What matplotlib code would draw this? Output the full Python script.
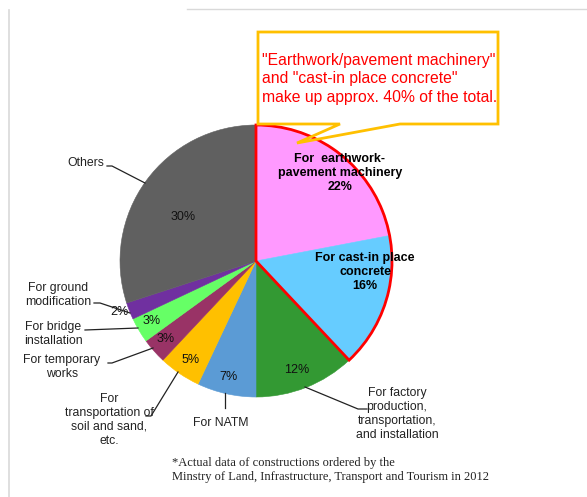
import matplotlib
matplotlib.use("Agg")
import matplotlib.pyplot as plt
from matplotlib.patches import Wedge, Polygon

# slice data, clockwise from 12 o'clock
categories = ["For earthwork-pavement machinery", "For cast-in place concrete",
              "For factory production, transportation, and installation", "For NATM",
              "For transportation of soil and sand, etc.", "For temporary works",
              "For bridge installation", "For ground modification", "Others"]
shares = [22, 16, 12, 7, 5, 3, 3, 2, 30]
colors = ["#FF99FF", "#66CCFF", "#339933", "#5B9BD5", "#FFC000",
          "#993366", "#66FF66", "#7030A0", "#606060"]
pct_labels = ["22%", "16%", "12%", "7%", "5%", "3%", "3%", "2%", "30%"]
outer_labels = ["", "", "For factory\nproduction,\ntransportation,\nand installation",
                "For NATM", "For\ntransportation of\nsoil and sand,\netc.",
                "For temporary\nworks", "For bridge\ninstallation",
                "For ground\nmodification", "Others"]
callout_text = ('"Earthwork/pavement machinery"\nand "cast-in place concrete"\n'
                'make up approx. 40% of the total.')
footnote = ("*Actual data of constructions ordered by the\n"
            "Minstry of Land, Infrastructure, Transport and Tourism in 2012")

W, H = 587, 497


def px(x, y):
    # image pixel coords -> axes data coords
    return (x, H - y)


plt.rcParams['font.family'] = ['Liberation Sans', 'DejaVu Sans']

fig = plt.figure(figsize=(W / 100, H / 100), dpi=100)
ax = fig.add_axes([0, 0, 1, 1])

center = px(256, 261)
radius = 136
wedges, _ = ax.pie(shares, colors=colors, startangle=90, counterclock=False,
                   center=center, radius=radius,
                   wedgeprops=dict(linewidth=0.4))
for w, c in zip(wedges, colors):
    w.set_edgecolor(c)

# red outline around the first two slices
top_share = (shares[0] + shares[1]) / sum(shares)
ax.add_patch(Wedge(center, radius, 90 - 360 * top_share, 90, fill=False,
                   edgecolor="red", linewidth=2, zorder=5))

# percent labels inside slices
pct_pos = [None, None, (297, 370), (228, 377), (191, 360), (166, 339),
           (152, 321), (119, 312), (183, 217)]
for lab, p in zip(pct_labels, pct_pos):
    if p is not None:
        ax.text(*px(*p), lab, ha="center", va="center", fontsize=9, color="#111111", zorder=6)

ax.text(*px(340, 173), "For  earthwork-\npavement machinery\n" + pct_labels[0],
        ha="center", va="center", fontsize=9, fontweight="bold", linespacing=1.25, zorder=6)
ax.text(*px(365, 272), "For cast-in place\nconcrete\n" + pct_labels[1],
        ha="center", va="center", fontsize=9, fontweight="bold", linespacing=1.25, zorder=6)

# outer labels with leader lines
label_pos = [None, None, (397, 414), (221, 423), (109, 420), (62, 367),
             (53, 334), (58, 295), (86, 163)]
leaders = [None, None,
           [(305, 387), (358, 409), (367, 409)],
           [(225, 393), (225, 408)],
           [(146, 416), (151, 416), (178, 372)],
           [(108, 363), (112, 363), (153, 348)],
           [(85, 330), (138, 328)],
           [(94, 303), (100, 303), (130, 313)],
           [(107, 166), (112, 166), (145, 183)]]
for lab, p, ld in zip(outer_labels, label_pos, leaders):
    if p is None:
        continue
    ax.text(*px(*p), lab, ha="center", va="center", multialignment="center",
            fontsize=8.8, color="#222222", linespacing=1.22, zorder=6)
    xs = [q[0] for q in ld]
    ys = [H - q[1] for q in ld]
    ax.plot(xs, ys, color="#222222", linewidth=0.9, zorder=6)

# callout box
box = [(258, 32), (498, 32), (498, 124), (400, 124), (297, 143), (340, 124), (258, 124)]
ax.add_patch(Polygon([px(*q) for q in box], closed=True, fill=False,
                     edgecolor="#FFC000", linewidth=2, zorder=7))
ax.text(*px(262, 79), callout_text, ha="left", va="center", fontsize=11.3,
        color="#FF0000", linespacing=1.28, zorder=7)

# footnote
ax.text(*px(172, 470), footnote, ha="left", va="center", fontsize=9,
        family=["Liberation Serif"], color="#222222", linespacing=1.2)

# faint frame lines
ax.plot([9, 9], [H - 10, 0], color="#D9D9D9", linewidth=1.2)
ax.plot([187, W], [H - 9, H - 9], color="#D9D9D9", linewidth=1.0)

ax.set_xlim(0, W)
ax.set_ylim(0, H)
ax.set_aspect("auto")
ax.axis("off")

fig.savefig("out.png", dpi=100, facecolor="white")
